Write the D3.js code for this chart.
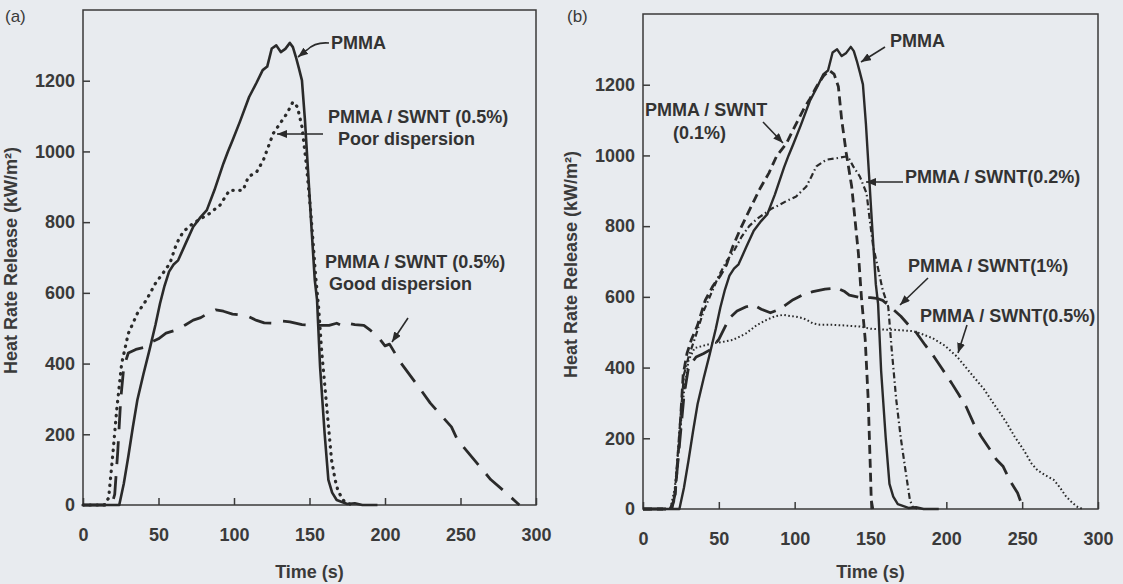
<!DOCTYPE html>
<html>
<head>
<meta charset="utf-8">
<script src="https://cdn.jsdelivr.net/npm/d3@7"></script>
<style>
  html, body { margin: 0; padding: 0; background: #e8ebef; }
  svg { display: block; }
</style>
</head>
<body>
<script>
// ---------- data ----------
const xTicks = [0, 50, 100, 150, 200, 250, 300];
const yTicks = [0, 200, 400, 600, 800, 1000, 1200];

// PMMA (same sample in both panels) [time s, HRR kW/m2]
const pmma = [[0,0],[20,0],[24,0],[27,60],[30,137],[33,220],[36,297],[40,370],[44,438],[48,510],[51,570],[54,620],[57,660],[60,680],[63,692],[68,740],[73,787],[78,815],[82,834],[87,890],[93,966],[96,1000],[99,1031],[104,1085],[110,1154],[115,1195],[119,1230],[122,1240],[125,1291],[128,1300],[131,1281],[134,1290],[137,1307],[139,1295],[141,1267],[143,1235],[145,1201],[147,1088],[149,947],[151,806],[153.5,636],[155,580],[157,391],[160,203],[162.5,71],[165,35],[168,14],[175,3],[180,5],[185,0],[195,0]];

// Panel (a)
const poorDispersion = [[0,0],[14,0],[17,20],[20,155],[22.3,268],[25.6,400],[30,485],[36,542],[42,580],[48,627],[53,656],[57.6,684],[62,740],[66.4,773],[73,797],[84,825],[90.7,848],[97,890],[106,890],[109.5,928],[115,942],[119.4,975],[122.7,1013],[126,1051],[130.5,1079],[135,1107],[139,1140],[142,1126],[145,1070],[148,960],[151,820],[154,650],[156,560],[158,438],[161,297],[164.6,127],[167,71],[169,38],[173,10],[178,0]];
const goodDispersion = [[0,0],[19,0],[21,30],[23,150],[25,300],[27,390],[30,430],[35,440],[40,445],[45,460],[50,470],[55,486],[62,495],[68,510],[73,523],[78,530],[82,540],[88,552],[93,548],[99,540],[105,537],[110,532],[115,522],[120,515],[126,514],[132,520],[137,518],[145,510],[155,508],[163,508],[168,514],[172,506],[176,514],[180,510],[186,508],[190,495],[195,478],[200,450],[203,455],[210,405],[223,330],[230,288],[244,221],[248,184],[263,108],[270,72],[280,35],[287,8],[289,0]];

// Panel (b)
const swnt01 = [[0,0],[18,0],[21,30],[24,200],[26.5,380],[29,440],[32,480],[36,520],[41,590],[46,630],[51,660],[55,690],[59,740],[64,790],[68.4,830],[73,870],[77,905],[83,950],[88,997],[94.7,1035],[99,1073],[105.7,1129],[110,1160],[114.5,1195],[119,1225],[123,1240],[126,1230],[128.8,1195],[131,1101],[134,1007],[137.6,912],[139.8,818],[142,724],[144,600],[146.5,480],[148.5,308],[150,100],[150.5,25],[151.5,0]];
const swnt02 = [[0,0],[18,0],[21,40],[24,220],[27,380],[30,430],[34,480],[40,560],[45,610],[50,660],[55,700],[60,730],[65,770],[70,800],[75,820],[80,835],[85,850],[90,860],[95,872],[101,884],[107.7,912],[111,940],[114.3,969],[121,988],[127.5,992],[134,997],[136,990],[138.6,969],[143,940],[147.4,893],[149.5,818],[151.8,742],[155,680],[158,620],[161.7,572],[164,450],[167,308],[170,200],[172.7,120],[176,25],[178,5],[182,0]];
const swnt05 = [[0,0],[18,0],[21,60],[24,200],[27,330],[30,420],[34,455],[40,462],[46,469],[52,472],[59,478],[64,488],[68,497],[75,520],[81.5,535],[87,545],[92.5,549],[97,546],[101,544],[105,540],[108,535],[112,525],[116.6,521],[125,521],[133,519],[143,516],[150,510],[160,507],[165,507],[172,505],[178,503],[182.6,497],[191,483],[199,462],[207,431],[213,400],[218,374],[225,338],[231,299],[236,268],[240,242],[245,205],[251,167],[256,130],[260,110],[265,96],[271,82],[275,60],[279,35],[283,18],[286,7],[290,0]];
const swnt1 = [[0,0],[19,0],[21,40],[24,180],[27,320],[30,400],[35,430],[40,440],[45,452],[50,480],[57,540],[62,560],[68,572],[73,577],[78,565],[84,555],[90,565],[99,592],[105,605],[112,615],[120,622],[128,625],[133,615],[136,605],[143,598],[150,598],[154,596],[158,590],[163,572],[170,545],[176,516],[180,500],[186,464],[192,430],[197,398],[203.5,356],[208,325],[213,290],[218,242],[223,205],[229,167],[233,140],[237.5,120],[242,80],[247,45],[250,10],[252,0]];

// ---------- drawing ----------
const W = 1123, H = 584;
const FONT = "'Liberation Sans', Arial, Helvetica, sans-serif";
const INK = "#2a2a2a";

const svg = d3.select("body").append("svg")
  .attr("width", W).attr("height", H)
  .style("font-family", FONT);

svg.append("rect").attr("width", W).attr("height", H).attr("fill", "#e8ebef");

const defs = svg.append("defs");
defs.append("marker")
  .attr("id", "arrow")
  .attr("markerUnits", "userSpaceOnUse")
  .attr("markerWidth", 10).attr("markerHeight", 8)
  .attr("refX", 10).attr("refY", 4)
  .attr("orient", "auto")
  .append("path").attr("d", "M0,0 L10,4 L0,8 Z").attr("fill", INK);

function panel(cfg) {
  const x = d3.scaleLinear().domain([0, 300]).range([cfg.x0, cfg.x1]);
  const y = d3.scaleLinear().domain([0, 1400]).range([cfg.y0, cfg.y1]);
  const g = svg.append("g");

  // axes
  const ax = g.append("g").attr("transform", `translate(0,${cfg.y0})`)
    .call(d3.axisBottom(x).tickValues(xTicks).tickFormat(d3.format("d"))
      .tickSizeInner(-7).tickSizeOuter(0).tickPadding(23));
  const ay = g.append("g").attr("transform", `translate(${cfg.x0},0)`)
    .call(d3.axisLeft(y).tickValues(yTicks).tickFormat(d3.format("d"))
      .tickSizeInner(-7).tickSizeOuter(0).tickPadding(8));
  [ax, ay].forEach(a => {
    a.select(".domain").remove();
    a.selectAll(".tick line").attr("stroke", "#3a3a3a").attr("stroke-width", 1.5);
    a.selectAll(".tick text")
      .attr("fill", "#3a3a3a")
      .style("font-family", FONT)
      .style("font-size", "18px")
      .style("font-weight", "bold");
  });

  // frame
  g.append("rect")
    .attr("x", cfg.x0).attr("y", cfg.y1)
    .attr("width", cfg.x1 - cfg.x0).attr("height", cfg.y0 - cfg.y1)
    .attr("fill", "none").attr("stroke", "#3a3a3a").attr("stroke-width", 1.5);

  // axis titles
  g.append("text")
    .attr("x", (cfg.x0 + cfg.x1) / 2).attr("y", 578)
    .attr("text-anchor", "middle")
    .attr("fill", "#3a3a3a")
    .style("font-size", "18px").style("font-weight", "bold")
    .text("Time (s)");
  g.append("text")
    .attr("transform", `translate(${cfg.x0 - 66},${(cfg.y0 + cfg.y1) / 2 + 3}) rotate(-90)`)
    .attr("text-anchor", "middle")
    .attr("fill", "#3a3a3a")
    .style("font-size", "18px").style("font-weight", "bold")
    .text("Heat Rate Release (kW/m²)");

  // panel label
  g.append("text")
    .attr("x", cfg.labelX).attr("y", 22)
    .attr("fill", "#3a3a3a")
    .style("font-size", "17px")
    .text(cfg.label);

  const line = d3.line().x(d => x(d[0])).y(d => y(d[1]));
  cfg.series.forEach(s => {
    g.append("path")
      .attr("d", line(s.data))
      .attr("fill", "none")
      .attr("stroke", INK)
      .attr("stroke-width", s.width)
      .attr("stroke-dasharray", s.dash || null)
      .attr("stroke-linecap", s.cap || "butt")
      .attr("stroke-linejoin", "round");
  });

  cfg.notes.forEach(n => {
    g.append("text")
      .attr("x", n.x).attr("y", n.y)
      .attr("fill", "#333")
      .style("font-size", "18px").style("font-weight", "bold")
      .text(n.t);
  });
  cfg.arrows.forEach(a => {
    g.append("path")
      .attr("d", a.d)
      .attr("fill", "none")
      .attr("stroke", INK)
      .attr("stroke-width", 1.6)
      .attr("marker-end", "url(#arrow)");
  });
}

panel({
  label: "(a)", labelX: 5,
  x0: 83, x1: 536, y0: 505, y1: 10,
  series: [
    { data: goodDispersion, width: 2.8, dash: "23,12" },
    { data: poorDispersion, width: 3.2, dash: "0.5,6.5", cap: "round" },
    { data: pmma, width: 2.6 }
  ],
  notes: [
    { t: "PMMA", x: 331, y: 49 },
    { t: "PMMA / SWNT (0.5%)", x: 328, y: 123 },
    { t: "Poor dispersion", x: 338, y: 145 },
    { t: "PMMA / SWNT (0.5%)", x: 325, y: 268 },
    { t: "Good dispersion", x: 329, y: 290 }
  ],
  arrows: [
    { d: "M329,43 C318,42 312,45 307,50 L298,57" },
    { d: "M323,134 L277,134" },
    { d: "M408,318 L392,342" }
  ]
});

panel({
  label: "(b)", labelX: 567,
  x0: 643, x1: 1098, y0: 509, y1: 14,
  series: [
    { data: swnt05, width: 2, dash: "1.6,2.4" },
    { data: swnt1, width: 2.8, dash: "20,10" },
    { data: swnt02, width: 2.2, dash: "6,3,1.5,3" },
    { data: swnt01, width: 2.8, dash: "9,5" },
    { data: pmma, width: 2.4 }
  ],
  notes: [
    { t: "PMMA", x: 890, y: 47 },
    { t: "PMMA / SWNT", x: 645, y: 116 },
    { t: "(0.1%)", x: 673, y: 139 },
    { t: "PMMA / SWNT(0.2%)", x: 905, y: 183 },
    { t: "PMMA / SWNT(1%)", x: 908, y: 272 },
    { t: "PMMA / SWNT(0.5%)", x: 920, y: 322 }
  ],
  arrows: [
    { d: "M885,47 L861,62" },
    { d: "M763,122 L783,143" },
    { d: "M903,182 L866,182" },
    { d: "M928,278 L900,305" },
    { d: "M967,325 L958,353" }
  ]
});
</script>
</body>
</html>
